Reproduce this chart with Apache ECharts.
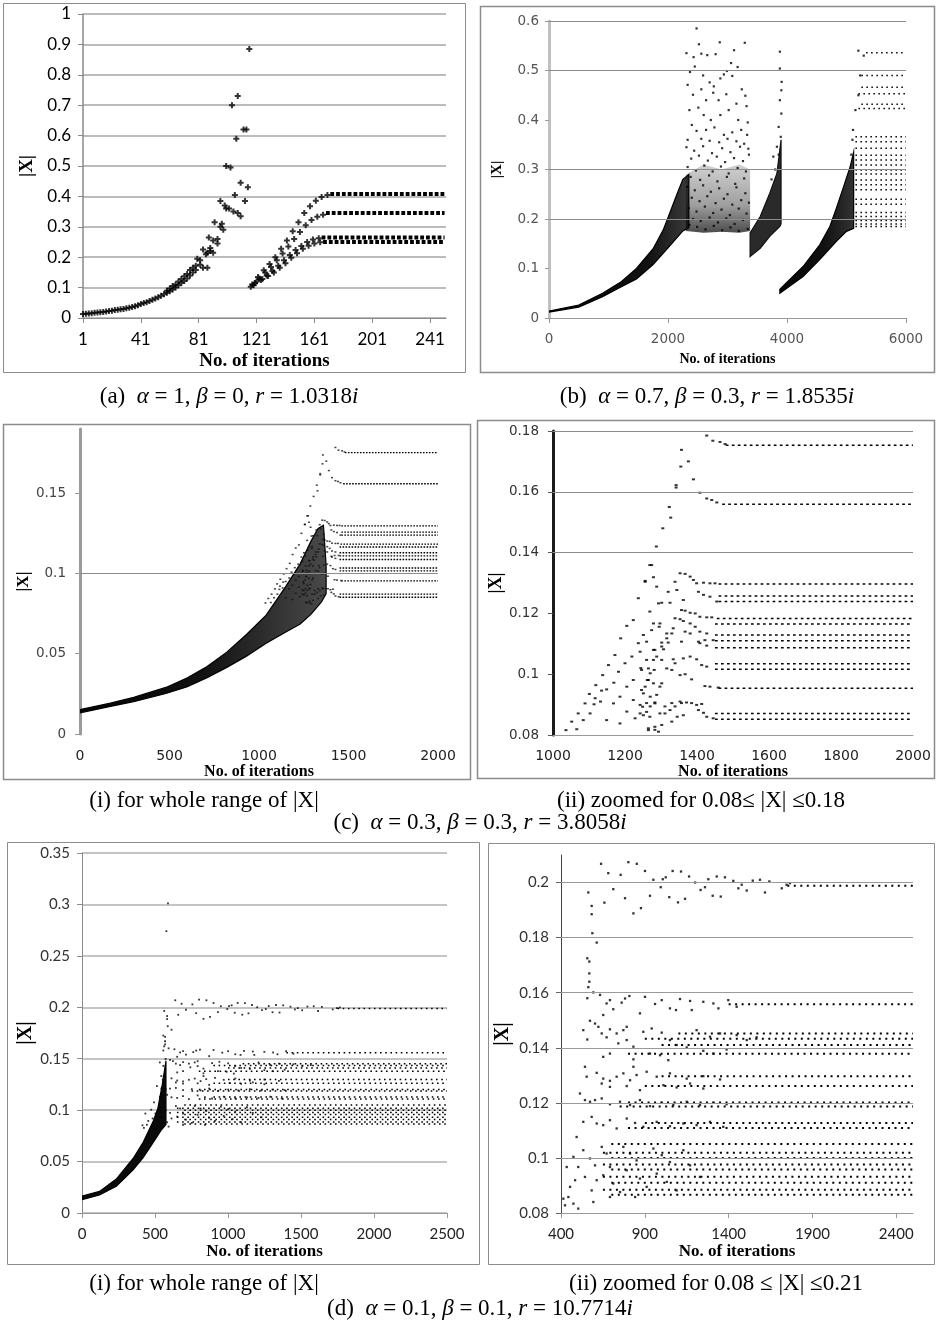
<!DOCTYPE html>
<html>
<head>
<meta charset="utf-8">
<script src="https://cdn.jsdelivr.net/npm/echarts@6/dist/echarts.min.js"></script>
<style>
  html, body { margin: 0; padding: 0; background: #fff; }
  #chart { width: 936px; height: 1330px; }
</style>
</head>
<body>
<div id="chart"></div>
<script>
// ---------- panel (a): alpha=1, beta=0 ----------
const aTicks = [1, 41, 81, 121, 161, 201, 241];
const aRise = [
  [1,0.013],[3,0.014],[5,0.015],[7,0.016],[9,0.017],[11,0.018],[13,0.019],[15,0.02],[17,0.021],[19,0.023],
  [21,0.024],[23,0.026],[25,0.027],[27,0.029],[29,0.03],[31,0.032],[33,0.034],[35,0.036],[37,0.039],[39,0.042],
  [41,0.046],[43,0.049],[45,0.052],[47,0.056],[49,0.06],[51,0.064],[53,0.068],[55,0.073],[57,0.078],[59,0.083],
  [59,0.09],[61,0.097],[61,0.088],[63,0.105],[63,0.094],[65,0.11],[65,0.1],[67,0.12],[67,0.108],[69,0.128],
  [69,0.115],[71,0.137],[71,0.122],[73,0.145],[73,0.13],[75,0.158],[75,0.14],[77,0.165],[77,0.15],[79,0.172],
  [79,0.158],[80,0.195],[82,0.19],[82,0.175],[84,0.225],[84,0.165],[86,0.21],[87,0.215],[87,0.165],[88,0.265],
  [89,0.23],[89,0.22],[91,0.255],[91,0.215],[92,0.315],[94,0.245],[94,0.26],[96,0.385],[96,0.3],[97,0.31],
  [98,0.29],[99,0.37],[100,0.5],[100,0.36],[102,0.36],[103,0.495],[104,0.7],[105,0.35],[106,0.405],[107,0.59],
  [108,0.73],[108,0.345],[110,0.335],[110,0.445],[112,0.62],[113,0.385],[114,0.62],[115,0.43],[116,0.885]
];
const aRecover = [
  [118,0.11],[122,0.135],[126,0.157],[130,0.178],[134,0.2],[138,0.228],[142,0.255],[146,0.285],[150,0.315],[154,0.345],[158,0.368],[162,0.386],[166,0.398],[170,0.405],
  [119,0.108],[123,0.13],[127,0.15],[131,0.168],[135,0.19],[139,0.212],[143,0.235],[147,0.26],[151,0.283],[155,0.305],[159,0.322],[163,0.333],[167,0.34],
  [120,0.115],[124,0.125],[128,0.14],[132,0.155],[136,0.172],[140,0.19],[144,0.207],[148,0.224],[152,0.237],[156,0.25],[160,0.258],[164,0.262],
  [117,0.103],[121,0.12],[125,0.128],[129,0.138],[133,0.15],[137,0.165],[141,0.18],[145,0.198],[149,0.213],[153,0.228],[157,0.238],[161,0.245],[165,0.249]
];
const aLevels = [0.408, 0.345, 0.265, 0.25];
const aLevelStart = [172, 169, 166, 167];
const aLevelEnd = 251;

// ---------- panel (b): alpha=0.7, beta=0.3 ----------
const bWedge1Low = [[0,0.012],[500,0.022],[900,0.043],[1200,0.062],[1470,0.079],[1750,0.108],[2030,0.146],[2250,0.176],[2350,0.182]];
const bWedge1Up = [[0,0.014],[500,0.026],[900,0.05],[1200,0.072],[1470,0.1],[1750,0.14],[1920,0.178],[2030,0.212],[2150,0.25],[2250,0.28],[2350,0.29]];
const bCoreLow = [[2300,0.176],[2600,0.172],[2900,0.174],[3200,0.172],[3380,0.176]];
const bCoreUp = [[2300,0.29],[2600,0.31],[2900,0.3],[3200,0.31],[3380,0.3]];
const bWedge2Low = [[3380,0.124],[3550,0.141],[3710,0.165],[3880,0.185],[3900,0.19]];
const bWedge2Up = [[3380,0.172],[3550,0.205],[3710,0.252],[3830,0.292],[3900,0.36]];
const bWedge3Low = [[3880,0.05],[4270,0.084],[4550,0.118],[4830,0.155],[5000,0.175],[5120,0.181]];
const bWedge3Up = [[3880,0.058],[4270,0.104],[4550,0.148],[4720,0.185],[4830,0.222],[4950,0.265],[5060,0.305],[5120,0.335]];
const bCloud = [
  [2480,0.585],[2520,0.553],[2310,0.535],[2430,0.527],[2560,0.534],[2660,0.531],[2800,0.533],[2870,0.557],[3110,0.541],[3290,0.556],
  [3060,0.515],[2990,0.499],[3170,0.507],[2940,0.492],[2450,0.508],[2370,0.497],[2590,0.49],[2700,0.476],[2770,0.468],[2880,0.484],
  [3080,0.489],[3240,0.462],[3300,0.449],[2330,0.471],[2420,0.451],[2560,0.462],[2640,0.44],[2760,0.455],[2850,0.44],[2980,0.452],
  [3150,0.433],[3320,0.428],[2360,0.42],[2510,0.425],[2600,0.41],[2720,0.4],[2880,0.41],[3020,0.42],[3180,0.4],[3340,0.395],
  [2400,0.39],[2480,0.378],[2640,0.38],[2780,0.385],[2940,0.37],[3080,0.375],[3230,0.38],[3330,0.37],[2330,0.36],[2560,0.362],
  [2700,0.358],[2860,0.355],[3000,0.362],[3150,0.357],[3280,0.352],[3350,0.342],
  [2310,0.345],[2440,0.338],[2590,0.347],[2740,0.333],[2910,0.343],[3050,0.335],[3210,0.346],[3360,0.33],
  [2390,0.322],[2520,0.328],[2670,0.318],[2820,0.326],[2960,0.315],[3110,0.323],[3260,0.317],
  [2330,0.305],[2470,0.298],[2610,0.308],[2750,0.296],[2890,0.306],[3020,0.292],[3170,0.303],[3310,0.296],
  [2380,0.285],[2540,0.279],[2690,0.288],[2830,0.276],[2990,0.285],[3130,0.271],[3280,0.282],
  [2320,0.265],[2450,0.258],[2590,0.268],[2720,0.255],[2860,0.262],[3000,0.25],[3150,0.264],[3300,0.252],
  [2400,0.243],[2530,0.236],[2660,0.246],[2800,0.232],[2940,0.241],[3080,0.229],[3230,0.238],[3360,0.233],
  [2350,0.222],[2480,0.215],[2620,0.225],[2760,0.212],[2900,0.219],[3040,0.208],[3190,0.221],[3320,0.211],
  [2420,0.2],[2550,0.196],[2700,0.203],[2840,0.193],[2980,0.201],[3120,0.19],[3260,0.198],
  [2360,0.188],[2490,0.184],[2630,0.179],[2770,0.186],[2910,0.177],[3050,0.183],[3190,0.176],[3340,0.18],
  [3880,0.538],[3880,0.504],[3910,0.477],[3905,0.46],[3880,0.44],[3905,0.413],[3860,0.386],[3895,0.366],[3830,0.346],
  [3770,0.326],[3860,0.33],[3800,0.3],[3740,0.28],
  [5100,0.36],[5080,0.33],[5110,0.38],[5150,0.42],[5200,0.45],[5230,0.49],[5200,0.54],[5290,0.53]
];
const bLevels = [0.536, 0.49, 0.466, 0.453, 0.432, 0.423, 0.366, 0.356, 0.343, 0.329, 0.319, 0.309,
                 0.299, 0.291, 0.279, 0.269, 0.259, 0.24, 0.23, 0.213, 0.205, 0.197, 0.19, 0.185];
const bLevelStart = [5330, 5250, 5250, 5200, 5250, 5200, 5150, 5150, 5150, 5150, 5150, 5150,
                     5150, 5150, 5150, 5150, 5150, 5150, 5150, 5150, 5150, 5150, 5150, 5150];
const bLevelEnd = 6000;

// ---------- panel (c): alpha=0.3, beta=0.3 ----------
const cBundleLow = [[0,0.0132],[170,0.0172],[300,0.0202],[480,0.0252],[600,0.0295],[710,0.035],[820,0.0415],[930,0.0485],
  [1040,0.0565],[1150,0.0635],[1230,0.0685],[1290,0.0745],[1350,0.0825],[1375,0.0875]];
const cBundleUp = [[0,0.0152],[170,0.0192],[300,0.0228],[480,0.029],[600,0.035],[710,0.042],[820,0.051],[930,0.062],
  [1040,0.074],[1150,0.092],[1230,0.106],[1290,0.12],[1330,0.128],[1360,0.13],[1375,0.105]];
const cTransient = [
  [1287,0.142],[1305,0.148],[1327,0.1515],[1323,0.155],[1342,0.1622],[1342,0.1614],[1355,0.1683],[1357,0.1738],[1376,0.17],
  [1390,0.1641],[1408,0.1597],[1427,0.1785],[1444,0.1768],[1464,0.1764],[1478,0.1757],[1427,0.1578],[1441,0.1573],[1455,0.1565],
  [1274,0.1359],[1279,0.1319],[1256,0.1304],
  [1353,0.1332],[1367,0.133],[1381,0.1321],[1390,0.131],[1399,0.1299],[1418,0.1301],[1436,0.1299],[1450,0.1299],[1339,0.1304],
  [1320,0.1271],[1344,0.1277],[1362,0.1244],[1404,0.1271],[1418,0.1261],[1436,0.1255],[1455,0.1239],[1302,0.1235],[1325,0.1235],
  [1357,0.1211],[1367,0.1209],[1381,0.1202],[1395,0.12],[1408,0.1189],[1427,0.1187],[1441,0.1187],[1339,0.1184],[1353,0.1181],
  [1279,0.1167],[1297,0.1167],[1362,0.1175],[1381,0.1167],[1395,0.1156],[1334,0.1151],
  [1316,0.1134],[1330,0.1134],[1367,0.114],[1381,0.1134],[1408,0.114],[1427,0.1134],
  [1316,0.1118],[1320,0.1104],[1260,0.1107],[1302,0.1104],[1357,0.1107],[1404,0.1107],[1422,0.1112],[1445,0.1112],
  [1242,0.1074],[1283,0.108],[1302,0.1091],[1307,0.1082],[1408,0.1102],[1427,0.1094],
  [1288,0.1058],[1279,0.1047],[1334,0.1049],[1339,0.1036],[1362,0.1052],[1381,0.1058],[1399,0.1049],[1413,0.103],[1427,0.1025],
  [1246,0.1014],[1265,0.1019],[1270,0.1003],[1316,0.1019],[1330,0.1014],[1353,0.0997],[1367,0.1],[1385,0.0983],
  [1265,0.0981],[1279,0.097],[1256,0.0959],[1297,0.0959],[1422,0.0961],[1436,0.0959],[1459,0.0956],
  [1251,0.0937],[1270,0.0926],[1288,0.0932],
  [1242,0.0899],[1260,0.0905],[1270,0.0894],[1283,0.0907],[1311,0.0894],[1330,0.0905],[1339,0.0894],[1357,0.0905],[1353,0.091],
  [1371,0.0907],[1385,0.0905],[1399,0.0899],[1413,0.0902],
  [1242,0.0871],[1251,0.0865],[1260,0.0876],[1297,0.0871],[1311,0.0871],[1325,0.0882],[1362,0.0865],[1404,0.0882],[1418,0.0873],
  [1330,0.0844],[1345,0.086],[1283,0.0827],[1265,0.0816],[1293,0.0811],[1427,0.086],[1445,0.0855],
  [1036,0.0816],[1052,0.0844],[1066,0.0819],[1070,0.0871],[1084,0.0849],[1089,0.0904],[1103,0.0871],[1101,0.0935],[1117,0.0921],
  [1114,0.0901],[1119,0.0964],[1135,0.0946],[1132,0.091],[1138,0.0997],[1149,0.095],[1149,0.0849],[1154,0.103],[1169,0.0972],
  [1168,0.0904],[1172,0.1063],[1182,0.1008],[1186,0.0926],[1186,0.0838],[1188,0.1118],[1200,0.1036],[1205,0.0959],[1205,0.0877],
  [1205,0.1159],[1219,0.1058],[1223,0.0981],[1223,0.0915],[1228,0.0855],[1223,0.1178],[1237,0.1102],[1244,0.102],[1246,0.0948],
  [1249,0.0893],[1237,0.125],[1251,0.1129],[1260,0.1047],[1262,0.0981],[1265,0.0822],[1269,0.086],[1256,0.1307],[1269,0.1206],
  [1274,0.1145],[1279,0.108],[1281,0.1014],[1283,0.0904],[1283,0.0817],[1269,0.1359],[1288,0.1288],[1293,0.1233],[1295,0.1156],
  [1302,0.1047],[1302,0.097],[1302,0.0833]
];
const cLevels = [0.1753, 0.1559, 0.1297, 0.1257, 0.1239, 0.1183, 0.1165, 0.1129, 0.111, 0.1087, 0.1034, 0.1016, 0.0954, 0.0871, 0.0852];
const cLevelStart = [1480, 1470, 1460, 1460, 1460, 1455, 1450, 1450, 1450, 1450, 1450, 1450, 1460, 1450, 1450];
const cLevelEnd = 2000;

// ---------- panel (d): alpha=0.1, beta=0.1 ----------
const dBundleLow = [[0,0.013],[120,0.0175],[235,0.026],[350,0.042],[420,0.054],[490,0.069],[540,0.08],[575,0.086]];
const dBundleUp = [[0,0.0165],[120,0.021],[235,0.033],[350,0.053],[420,0.069],[490,0.09],[520,0.102],[550,0.125],[575,0.148]];
const dTransient = [
  [563,0.1964],[583,0.1915],[583,0.1885],[587,0.1816],[613,0.1782],[557,0.1725],[569,0.1713],[569,0.167],[569,0.164],[563,0.162],
  [557,0.158],[639,0.2068],[659,0.1927],[682,0.2034],[712,0.1976],[756,0.2028],[782,0.1943],[802,0.2074],[832,0.1888],[852,0.2068],
  [877,0.1907],[901,0.2042],[931,0.1952],[951,0.201],[995,0.1983],[1007,0.2012],[1025,0.2019],[1046,0.1947],[1066,0.2042],[1116,0.204],
  [1098,0.1928],[1140,0.1941],[1164,0.2022],[1200,0.2],[1233,0.1973],[1259,0.1983],[1279,0.2012],[1305,0.1952],[1329,0.2022],[1378,0.2019],
  [1353,0.1949],[1428,0.2006],[1458,0.1979],[1478,0.1992],[1508,0.1971],[1544,0.2007],[1587,0.201],[1617,0.1964],[1643,0.2004],[1717,0.1979],
  [1746,0.1992],[1766,0.1998],
  [589,0.301],[578,0.274],
  [593,0.1601],[633,0.1592],[672,0.1561],[652,0.1519],[692,0.1573],[712,0.154],[762,0.1564],[782,0.1579],[808,0.1588],[871,0.1525],
  [901,0.1585],[961,0.1559],[1001,0.1573],[1050,0.1543],[1086,0.1537],[1110,0.1577],[1170,0.157],[1180,0.1537],[1249,0.1567],[1309,0.1561],
  [1339,0.1543],[1398,0.1573],[1448,0.1549],
  [573,0.1498],[533,0.1464],[557,0.143],[603,0.1488],[623,0.1476],[643,0.1452],[672,0.1438],[692,0.1467],[732,0.1452],[772,0.1464],
  [652,0.1367],[692,0.1379],[742,0.1416],[792,0.1428],[832,0.1404],[832,0.1358],[832,0.1331],[792,0.1476],[891,0.1458],[941,0.147],
  [1001,0.1455],[1050,0.1428],[1090,0.141],[1150,0.1401],[931,0.1379],[991,0.1373],[1040,0.1355],[1209,0.1464],[1289,0.144],[1349,0.1452],
  [1249,0.1389],[1309,0.1379],[1388,0.1394],[1448,0.1446],[1508,0.1428],[1567,0.1438],
  [543,0.1331],[553,0.1295],[613,0.1309],[652,0.1288],[692,0.128],[732,0.1295],[772,0.1307],[812,0.1282],[851,0.1301],[911,0.1313],
  [971,0.1295],[643,0.127],[692,0.1258],[792,0.1261],[871,0.1246],[1011,0.1264],[1090,0.1256],[1170,0.127],[1249,0.1252],[1050,0.1307],
  [1150,0.1288],[1249,0.1297],[1349,0.1285],
  [513,0.1234],[543,0.121],[573,0.1204],[603,0.121],[643,0.1216],[692,0.1195],[752,0.1204],[812,0.1192],[871,0.121],[931,0.1188],
  [1001,0.12],[1070,0.1192],[1150,0.1204],[1229,0.1192],[1309,0.12],[1388,0.1195],
  [533,0.1131],[493,0.1076],[583,0.1149],[613,0.1125],[652,0.1119],[692,0.1137],[732,0.1107],[792,0.1143],[842,0.1127],[891,0.1113],
  [971,0.1131],[1050,0.1115],[1130,0.1125],[1209,0.1119],[1289,0.1131],[1368,0.1113],
  [474,0.1004],[503,0.0967],[484,0.0919],[454,0.0895],[444,0.0858],[474,0.0834],[503,0.0816],[434,0.0967],[414,0.0852],[424,0.0828],
  [533,0.1028],[573,0.0998],[543,0.0931],[603,0.0973],[613,0.0919],[583,0.0882],[593,0.084],[643,0.104],[672,0.1016],[692,0.0967],
  [652,0.0937],[712,0.0907],[752,0.0876],[692,0.0858],[772,0.104],[812,0.1016],[851,0.0991],[792,0.0955],[871,0.0925],[911,0.0895],
  [842,0.0858],[951,0.1034],[1001,0.101],[1050,0.0985],[971,0.0943],[1031,0.0913],[1090,0.0882],[1130,0.1028],[1170,0.0973],[1229,0.0931]
];
const dLevels = [0.1988, 0.1558, 0.1452, 0.1433, 0.141, 0.1378, 0.1297, 0.1261, 0.1201, 0.1187, 0.1127,
                 0.1109, 0.1051, 0.1019, 0.1, 0.0976, 0.0958, 0.0932, 0.091, 0.0884, 0.0866];
const dLevelStart = [1750, 1400, 1100, 900, 1000, 800, 1000, 900, 800, 750, 900,
                     800, 700, 650, 700, 650, 700, 650, 700, 650, 700];
const dLevelEnd = 2500;
const d2YTicks = [0.08, 0.1, 0.12, 0.14, 0.16, 0.18, 0.2];
const d2XTicks = [400, 900, 1400, 1900, 2400];
const c1YTicks = [0, 0.05, 0.1, 0.15];

// ---------- helpers ----------
const serif = 'Liberation Serif';
const plusMark = 'path://M2,0H4V2H6V4H4V6H2V4H0V2H2Z';
const plain = v => String(v);

function levelLines(levels, starts, end, idx, style) {
  return levels.map((v, i) => ({
    type: 'line', xAxisIndex: idx, yAxisIndex: idx, silent: true, z: 3,
    symbol: 'none', data: [[starts[i], v], [end, v]],
    lineStyle: Object.assign({ color: '#000' }, style)
  }));
}

function band(lower, upper, idx, fill, stroke) {
  return {
    type: 'custom', xAxisIndex: idx, yAxisIndex: idx, silent: true, clip: true, z: 2,
    data: [lower[0]],
    renderItem: (params, api) => ({
      type: 'polygon',
      shape: { points: lower.concat(upper.slice().reverse()).map(p => api.coord(p)) },
      style: stroke ? { fill: fill, stroke: stroke, lineWidth: 1.2 } : { fill: fill }
    })
  };
}

function dots(data, idx, symbol, size, color) {
  return { type: 'scatter', xAxisIndex: idx, yAxisIndex: idx, silent: true, z: 4,
    data: data, symbol: symbol, symbolSize: size, itemStyle: { color: color || '#000' } };
}

function gridMarks(values, idx, color) {
  return { type: 'line', xAxisIndex: idx, yAxisIndex: idx, data: [], silent: true, z: 1,
    markLine: { silent: true, symbol: ['none', 'none'], label: { show: false },
      lineStyle: { color: color, width: 1, type: 'solid' },
      data: values.map(v => ({ yAxis: v })) } };
}

// dark on the left where the dots merge, greyer where they separate into strands
function fade(stop, end) {
  return new echarts.graphic.LinearGradient(0, 0, 1, 0, [
    { offset: 0, color: '#050505' }, { offset: stop, color: '#111' }, { offset: 1, color: end }]);
}
// the chaotic cloud is densest just above its floor
const cloudFill = new echarts.graphic.LinearGradient(0, 0, 0, 1, [
  { offset: 0, color: 'rgba(0,0,0,0.18)' }, { offset: 0.6, color: 'rgba(0,0,0,0.38)' },
  { offset: 1, color: 'rgba(0,0,0,0.7)' }]);

function xName(size, gap) {
  return { name: 'No. of iterations', nameLocation: 'middle', nameGap: gap,
    nameTextStyle: { fontFamily: serif, fontWeight: 'bold', fontSize: size, color: '#000' } };
}
function yName(size, gap) {
  return { name: '|X|', nameLocation: 'middle', nameGap: gap,
    nameTextStyle: { fontFamily: serif, fontWeight: 'bold', fontSize: size, color: '#000' } };
}

const rich = {
  p: { fontFamily: serif, fontSize: 23, color: '#000' },
  g: { fontFamily: serif, fontSize: 23, fontStyle: 'italic', color: '#000' }
};
function caption(text, x, y) {
  return { text: text, left: x, top: y, textAlign: 'center',
    textStyle: { fontFamily: serif, fontSize: 23, fontWeight: 'normal', color: '#000', rich: rich } };
}

const chart = echarts.init(document.getElementById('chart'));

const option = {
  animation: false,
  backgroundColor: '#fff',
  title: [
    caption('{p|(a)  }{g|α}{p| = 1, }{g|β}{p| = 0, }{g|r}{p| = 1.0318}{g|i}', 224, 380),
    caption('{p|(b)  }{g|α}{p| = 0.7, }{g|β}{p| = 0.3, }{g|r}{p| = 1.8535}{g|i}', 702, 380),
    caption('(i) for whole range of |X|', 199, 784),
    caption('(ii) zoomed for 0.08≤ |X| ≤0.18', 696, 784),
    caption('{p|(c)  }{g|α}{p| = 0.3, }{g|β}{p| = 0.3, }{g|r}{p| = 3.8058}{g|i}', 475, 806),
    caption('(i) for whole range of |X|', 199, 1267),
    caption('(ii) zoomed for 0.08 ≤ |X| ≤0.21', 711, 1267),
    caption('{p|(d)  }{g|α}{p| = 0.1, }{g|β}{p| = 0.1, }{g|r}{p| = 10.7714}{g|i}', 475, 1292)
  ],
  graphic: [
    { type: 'rect', silent: true, shape: { x: 3.5, y: 3.5, width: 462, height: 369 }, style: { fill: 'none', stroke: '#8c8c8c', lineWidth: 1 } },
    { type: 'rect', silent: true, shape: { x: 480.5, y: 6.5, width: 454, height: 366 }, style: { fill: 'none', stroke: '#8c8c8c', lineWidth: 1.5 } },
    { type: 'rect', silent: true, shape: { x: 3.5, y: 424.5, width: 467, height: 355 }, style: { fill: 'none', stroke: '#8c8c8c', lineWidth: 1.5 } },
    { type: 'rect', silent: true, shape: { x: 477.5, y: 420.5, width: 457, height: 358 }, style: { fill: 'none', stroke: '#8c8c8c', lineWidth: 1.5 } },
    { type: 'rect', silent: true, shape: { x: 7.5, y: 842.5, width: 472, height: 422 }, style: { fill: 'none', stroke: '#8c8c8c', lineWidth: 1 } },
    { type: 'rect', silent: true, shape: { x: 488.5, y: 843.5, width: 446, height: 421 }, style: { fill: 'none', stroke: '#8c8c8c', lineWidth: 1 } }
  ],
  grid: [
    { left: 83, top: 14, width: 363, height: 304 },
    { left: 549, top: 21, width: 357, height: 297 },
    { left: 80, top: 429, width: 358, height: 305 },
    { left: 553, top: 431, width: 360, height: 304 },
    { left: 82, top: 853, width: 365, height: 360 },
    { left: 561, top: 855, width: 352, height: 358 }
  ],
  xAxis: [
    Object.assign({ gridIndex: 0, type: 'value', min: 1, max: 252,
      axisLine: { show: true, lineStyle: { color: '#8a8a8a' } },
      axisTick: { show: true, customValues: aTicks, length: 5, lineStyle: { color: '#8a8a8a' } },
      axisLabel: { customValues: aTicks, formatter: plain, fontFamily: 'Lato', fontSize: 17, color: '#000', margin: 13 },
      splitLine: { show: false } }, xName(19, 34)),
    Object.assign({ gridIndex: 1, type: 'value', min: 0, max: 6000, interval: 2000,
      axisLine: { show: true, lineStyle: { color: '#9a9a9a' } },
      axisTick: { show: true, length: 5, lineStyle: { color: '#9a9a9a' } },
      axisLabel: { formatter: plain, fontFamily: 'DejaVu Sans', fontSize: 13.5, color: '#555', margin: 14 },
      splitLine: { show: false } }, xName(14, 34)),
    Object.assign({ gridIndex: 2, type: 'value', min: 0, max: 2000, interval: 500,
      axisLine: { show: false }, axisTick: { show: false },
      axisLabel: { formatter: plain, fontFamily: 'DejaVu Sans', fontSize: 14, color: '#222', margin: 15 },
      splitLine: { show: false } }, xName(16, 28)),
    Object.assign({ gridIndex: 3, type: 'value', min: 1000, max: 2000, interval: 200,
      axisLine: { show: true, lineStyle: { color: '#999' } }, axisTick: { show: false },
      axisLabel: { formatter: plain, fontFamily: 'DejaVu Sans', fontSize: 14, color: '#222', margin: 14 },
      splitLine: { show: false } }, xName(16, 27)),
    Object.assign({ gridIndex: 4, type: 'value', min: 0, max: 2500, interval: 500,
      axisLine: { show: true, lineStyle: { color: '#999' } },
      axisTick: { show: true, length: 5, lineStyle: { color: '#999' } },
      axisLabel: { formatter: plain, fontFamily: 'Lato', fontSize: 15, color: '#222', margin: 14 },
      splitLine: { show: false } }, xName(17, 30)),
    Object.assign({ gridIndex: 5, type: 'value', min: 400, max: 2500,
      axisLine: { show: true, lineStyle: { color: '#999' } },
      axisTick: { show: true, customValues: d2XTicks, length: 5, lineStyle: { color: '#999' } },
      axisLabel: { customValues: d2XTicks, formatter: plain, fontFamily: 'Lato', fontSize: 15, color: '#222', margin: 14 },
      splitLine: { show: false } }, xName(17, 30))
  ],
  yAxis: [
    Object.assign({ gridIndex: 0, type: 'value', min: 0, max: 1, interval: 0.1,
      axisLine: { show: true, lineStyle: { color: '#8a8a8a', width: 1.5 } },
      axisTick: { show: true, length: 5, lineStyle: { color: '#8a8a8a' } },
      axisLabel: { fontFamily: 'Lato', fontSize: 17, color: '#000', margin: 12 },
      splitLine: { show: true, lineStyle: { color: '#a6a6a6', width: 1.5 } } }, yName(19, 46)),
    Object.assign({ gridIndex: 1, type: 'value', min: 0, max: 0.6, interval: 0.1,
      axisLine: { show: true, lineStyle: { color: '#c0c0c0', width: 3 } },
      axisTick: { show: true, length: 4, lineStyle: { color: '#999' } },
      axisLabel: { fontFamily: 'DejaVu Sans', fontSize: 13.5, color: '#555', margin: 10 },
      splitLine: { show: false } }, yName(15, 44)),
    Object.assign({ gridIndex: 2, type: 'value', min: 0, max: 0.19,
      axisLine: { show: true, lineStyle: { color: '#9a9a9a', width: 3 } },
      axisTick: { show: true, customValues: c1YTicks, length: 5, lineStyle: { color: '#999' } },
      axisLabel: { customValues: c1YTicks, fontFamily: 'DejaVu Sans', fontSize: 13.5, color: '#444', margin: 14 },
      splitLine: { show: false } }, yName(17, 46)),
    Object.assign({ gridIndex: 3, type: 'value', min: 0.08, max: 0.18, interval: 0.02,
      axisLine: { show: true, lineStyle: { color: '#1a1a1a', width: 3 } },
      axisTick: { show: true, length: 5, lineStyle: { color: '#555' } },
      axisLabel: { fontFamily: 'DejaVu Sans', fontSize: 13.5, color: '#333', margin: 14 },
      splitLine: { show: false } }, yName(18, 48)),
    Object.assign({ gridIndex: 4, type: 'value', min: 0, max: 0.35, interval: 0.05,
      axisLine: { show: true, lineStyle: { color: '#8a8a8a' } },
      axisTick: { show: true, length: 5, lineStyle: { color: '#8a8a8a' } },
      axisLabel: { fontFamily: 'Lato', fontSize: 15, color: '#333', margin: 12 },
      splitLine: { show: true, lineStyle: { color: '#b0b0b0', width: 1.5 } } }, yName(20, 46)),
    Object.assign({ gridIndex: 5, type: 'value', min: 0.08, max: 0.21,
      axisLine: { show: true, lineStyle: { color: '#444' } },
      axisTick: { show: true, customValues: d2YTicks, length: 5, lineStyle: { color: '#666' } },
      axisLabel: { customValues: d2YTicks, fontFamily: 'Lato', fontSize: 15, color: '#333', margin: 12 },
      splitLine: { show: false } }, yName(20, 48))
  ],
  series: [].concat(
    // (a)
    [dots(aRise, 0, plusMark, 6), dots(aRecover, 0, plusMark, 6)],
    levelLines(aLevels, aLevelStart, aLevelEnd, 0, { width: 4, type: [3.8, 2] }),
    // (b)
    [gridMarks([0.2, 0.3, 0.5, 0.6], 1, '#8c8c8c'),
     band(bWedge1Low, bWedge1Up, 1, fade(0.7, '#3a3a3a'), '#000'),
     band(bCoreLow, bCoreUp, 1, cloudFill),
     band(bWedge2Low, bWedge2Up, 1, '#2a2a2a', '#111'),
     band(bWedge3Low, bWedge3Up, 1, fade(0.6, '#333'), '#000'),
     dots(bCloud, 1, 'rect', 2.2)],
    levelLines(bLevels, bLevelStart, bLevelEnd, 1, { width: 1.5, type: [1.5, 3.5] }),
    // (c)(i)
    [gridMarks([0.1], 2, '#8c8c8c'),
     band(cBundleLow, cBundleUp, 2, fade(0.5, '#4a4a4a'), '#000'),
     dots(cTransient, 2, 'rect', [2, 1.5], '#111')],
    levelLines(cLevels, cLevelStart, cLevelEnd, 2, { width: 1.3, type: [1.6, 1.4] }),
    // (c)(ii)
    [gridMarks([0.14, 0.16, 0.18], 3, '#8c8c8c'),
     dots(cTransient, 3, 'rect', [3, 2])],
    levelLines(cLevels, cLevelStart, cLevelEnd, 3, { width: 1.5, type: [2.7, 3.3] }),
    // (d)(i)
    [band(dBundleLow, dBundleUp, 4, '#0a0a0a', '#000'),
     dots(dTransient, 4, 'rect', 1.8)],
    levelLines(dLevels, dLevelStart, dLevelEnd, 4, { width: 1.5, type: [1.6, 3.6] }),
    // (d)(ii)
    [gridMarks([0.1, 0.12, 0.14, 0.16, 0.18, 0.2], 5, '#9a9a9a'),
     dots(dTransient, 5, 'rect', 2.3)],
    levelLines(dLevels, dLevelStart, dLevelEnd, 5, { width: 2, type: [2, 4.5] })
  )
};

chart.setOption(option);
</script>
</body>
</html>
